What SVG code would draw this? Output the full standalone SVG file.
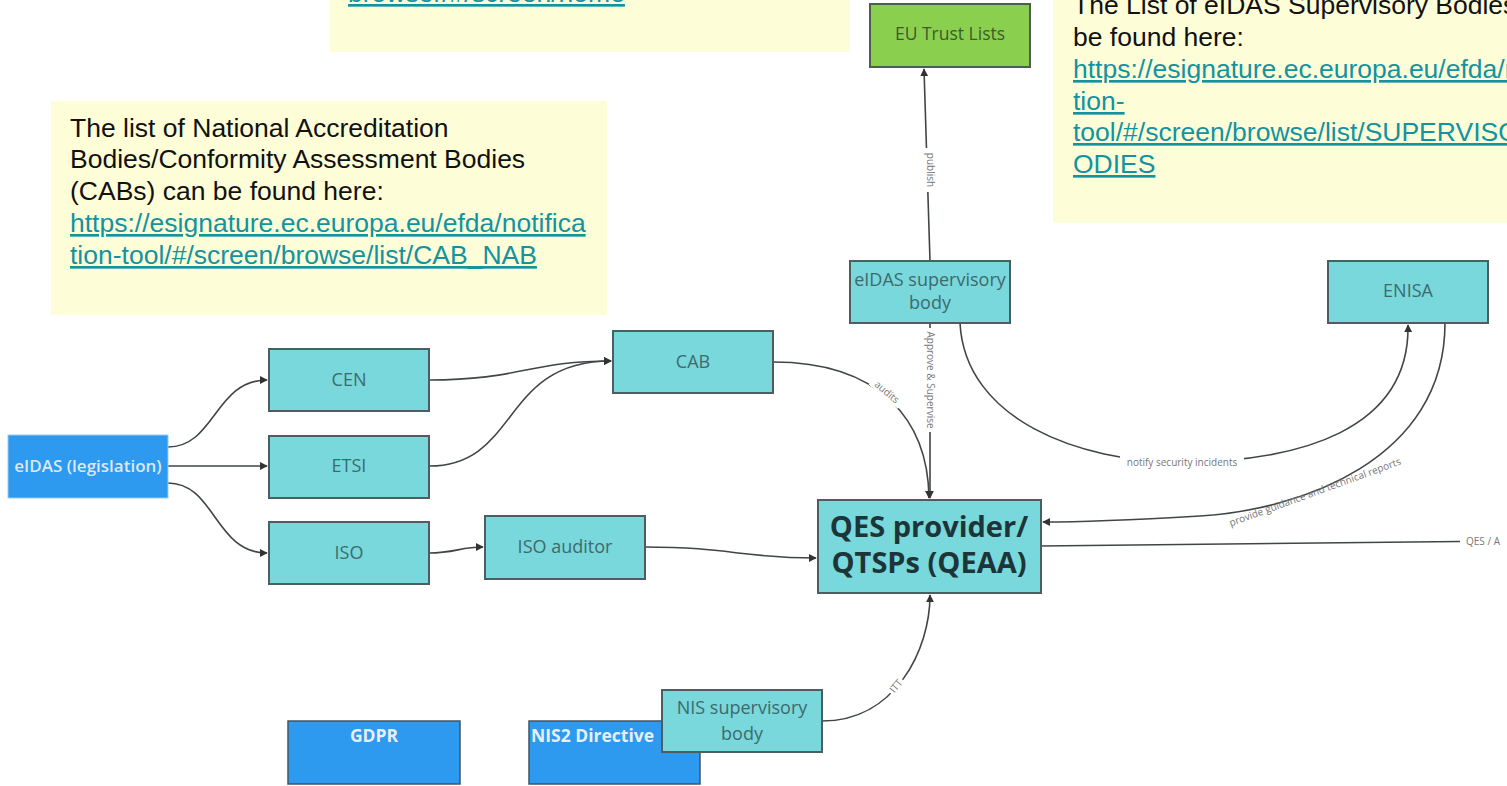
<svg xmlns="http://www.w3.org/2000/svg" width="1507" height="786" viewBox="0 0 1507 786">
<defs>
<style>
.note{fill:#fdfed8}
.nt{font-family:"Liberation Sans",Arial,sans-serif;font-size:26.5px;fill:#111}
.ln{font-family:"Liberation Sans",Arial,sans-serif;font-size:26.5px;fill:#13939f;text-decoration:underline}
.teal{fill:#78d8db;stroke:#4d5e60;stroke-width:2}
.blue{fill:#2d99ef;stroke:#3f5566;stroke-width:1.5}
.green{fill:#8bcf4e;stroke:#4d5e50;stroke-width:2}
.lab{font-family:"Open Sans","Noto Sans",sans-serif;font-size:18px;fill:#3e6a6e;text-anchor:middle}
.wl{font-family:"Open Sans","Noto Sans",sans-serif;font-size:17.5px;fill:#e6f0fb;font-weight:bold}
.big{font-family:"Open Sans","Noto Sans",sans-serif;font-size:29px;fill:#1d3538;font-weight:bold;text-anchor:middle}
.c{fill:none;stroke:#404546;stroke-width:1.6}
.cl{font-family:"Open Sans","Noto Sans",sans-serif;font-size:10px;fill:#777;text-anchor:middle}
.lb{fill:#fff}
</style>
<marker id="ah" viewBox="0 0 10 10" refX="9" refY="5" markerWidth="8" markerHeight="8" orient="auto" markerUnits="userSpaceOnUse">
<path d="M0,0 L10,5 L0,10 z" fill="#333"/>
</marker>
</defs>
<rect width="1507" height="786" fill="#fff"/>

<g id="note-top">
<rect class="note" x="330" y="-10" width="520" height="62"/>
<text class="ln" x="348" y="2">browser/#/screen/home</text>
</g>
<g id="note-left">
<rect class="note" x="51" y="101" width="556" height="214"/>
<text class="nt" x="70" y="137">The list of National Accreditation</text>
<text class="nt" x="70" y="168">Bodies/Conformity Assessment Bodies</text>
<text class="nt" x="70" y="200">(CABs) can be found here:</text>
<text class="ln" x="70" y="232">https://esignature.ec.europa.eu/efda/notifica</text>
<text class="ln" x="70" y="264">tion-tool/#/screen/browse/list/CAB_NAB</text>
</g>
<g id="note-right">
<rect class="note" x="1053" y="-10" width="470" height="233"/>
<text class="nt" x="1073" y="14">The List of eIDAS Supervisory Bodies can</text>
<text class="nt" x="1073" y="46">be found here:</text>
<text class="ln" x="1073" y="78">https://esignature.ec.europa.eu/efda/notifica</text>
<text class="ln" x="1073" y="110">tion-</text>
<text class="ln" x="1073" y="141">tool/#/screen/browse/list/SUPERVISORY_B</text>
<text class="ln" x="1073" y="173">ODIES</text>
</g>

<g id="connectors">
<path class="c" d="M168,447 C215,447 215,380 267,380" marker-end="url(#ah)"/>
<path class="c" d="M168,466 L267,466" marker-end="url(#ah)"/>
<path class="c" d="M168,483 C215,483 215,553 267,553" marker-end="url(#ah)"/>
<path class="c" d="M429,380 C520,380 530,361 611,361" marker-end="url(#ah)"/>
<path class="c" d="M429,466 C520,466 500,361 611,361" marker-end="url(#ah)"/>
<path class="c" d="M429,553 C455,553 460,547 483,547" marker-end="url(#ah)"/>
<path class="c" d="M645,547 C730,547 740,558 816,558" marker-end="url(#ah)"/>
<path class="c" d="M773,362 C880,362 928,420 929,498" marker-end="url(#ah)"/>
<path class="c" d="M930,323 L930,498" marker-end="url(#ah)"/>
<path class="c" d="M930,261 L924,69" marker-end="url(#ah)"/>
<path class="c" d="M960,323 C965,420 1080,462 1180,462 C1300,462 1410,430 1408,325" marker-end="url(#ah)"/>
<path class="c" d="M1445,323 C1445,460 1300,510 1200,516 C1130,520 1080,522 1043,522" marker-end="url(#ah)"/>
<path class="c" d="M1041,546 L1507,541"/>
<path class="c" d="M822,721 C895,721 930,650 930,595" marker-end="url(#ah)"/>
<rect class="lb" x="925" y="148" width="11" height="44"/>
<text class="cl" transform="translate(930,170) rotate(90)" dy="3.5">publish</text>
<rect class="lb" x="924" y="328" width="12" height="104"/>
<text class="cl" transform="translate(930,380) rotate(90)" dy="3.5">Approve &amp; Supervise</text>
<rect class="lb" x="868" y="386" width="38" height="12" transform="rotate(40,887,392)"/>
<text class="cl" transform="translate(887,392) rotate(40)" dy="3.5">audits</text>
<rect class="lb" x="1120" y="455" width="124" height="14"/>
<text class="cl" x="1182" y="466">notify security incidents</text>
<text class="cl" transform="translate(1315,492) rotate(-20)" dy="3.5">provide guidance and technical reports</text>
<rect class="lb" x="1460" y="535" width="47" height="13"/>
<text class="cl" x="1466" y="545" style="text-anchor:start">QES / A</text>
<rect class="lb" x="887" y="679" width="18" height="13" transform="rotate(-50,896,686)"/>
<text class="cl" transform="translate(896,686) rotate(-50)" dy="3.5">ITT</text>
</g>

<g id="eu-trust-lists"><rect class="green" x="870" y="4" width="160" height="63"/><text class="lab" x="950" y="40" style="fill:#3d5a30;font-size:17.5px">EU Trust Lists</text></g>
<g id="eidas-supervisory"><rect class="teal" x="850" y="261" width="160" height="62"/><text class="lab" x="930" y="286">eIDAS supervisory</text><text class="lab" x="930" y="309">body</text></g>
<g id="enisa"><rect class="teal" x="1328" y="261" width="160" height="62"/><text class="lab" x="1408" y="297">ENISA</text></g>
<g id="cab"><rect class="teal" x="613" y="331" width="160" height="62"/><text class="lab" x="693" y="368">CAB</text></g>
<g id="cen"><rect class="teal" x="269" y="349" width="160" height="62"/><text class="lab" x="349" y="386">CEN</text></g>
<g id="etsi"><rect class="teal" x="269" y="436" width="160" height="62"/><text class="lab" x="349" y="472">ETSI</text></g>
<g id="iso"><rect class="teal" x="269" y="522" width="160" height="62"/><text class="lab" x="349" y="559">ISO</text></g>
<g id="iso-auditor"><rect class="teal" x="485" y="516" width="160" height="63"/><text class="lab" x="565" y="553">ISO auditor</text></g>
<g id="eidas-legislation"><rect x="8" y="435" width="160" height="63" fill="#2d99ef" stroke="#9cc9ef" stroke-width="1"/><text class="lab" x="88" y="472" style="fill:#dbe9f5;font-weight:600;font-size:17px">eIDAS (legislation)</text></g>
<g id="qes-provider"><rect class="teal" x="818" y="500" width="223" height="93"/><text class="big" x="929" y="537">QES provider/</text><text class="big" x="929" y="573">QTSPs (QEAA)</text></g>
<g id="gdpr"><rect class="blue" x="288" y="721" width="172" height="63"/><text class="wl" x="374" y="742" text-anchor="middle">GDPR</text></g>
<g id="nis2"><rect class="blue" x="529" y="721" width="171" height="63"/><text class="wl" x="531" y="742">NIS2 Directive</text></g>
<g id="nis-supervisory"><rect class="teal" x="662" y="690" width="160" height="62"/><text class="lab" x="742" y="714">NIS supervisory</text><text class="lab" x="742" y="740">body</text></g>
</svg>
